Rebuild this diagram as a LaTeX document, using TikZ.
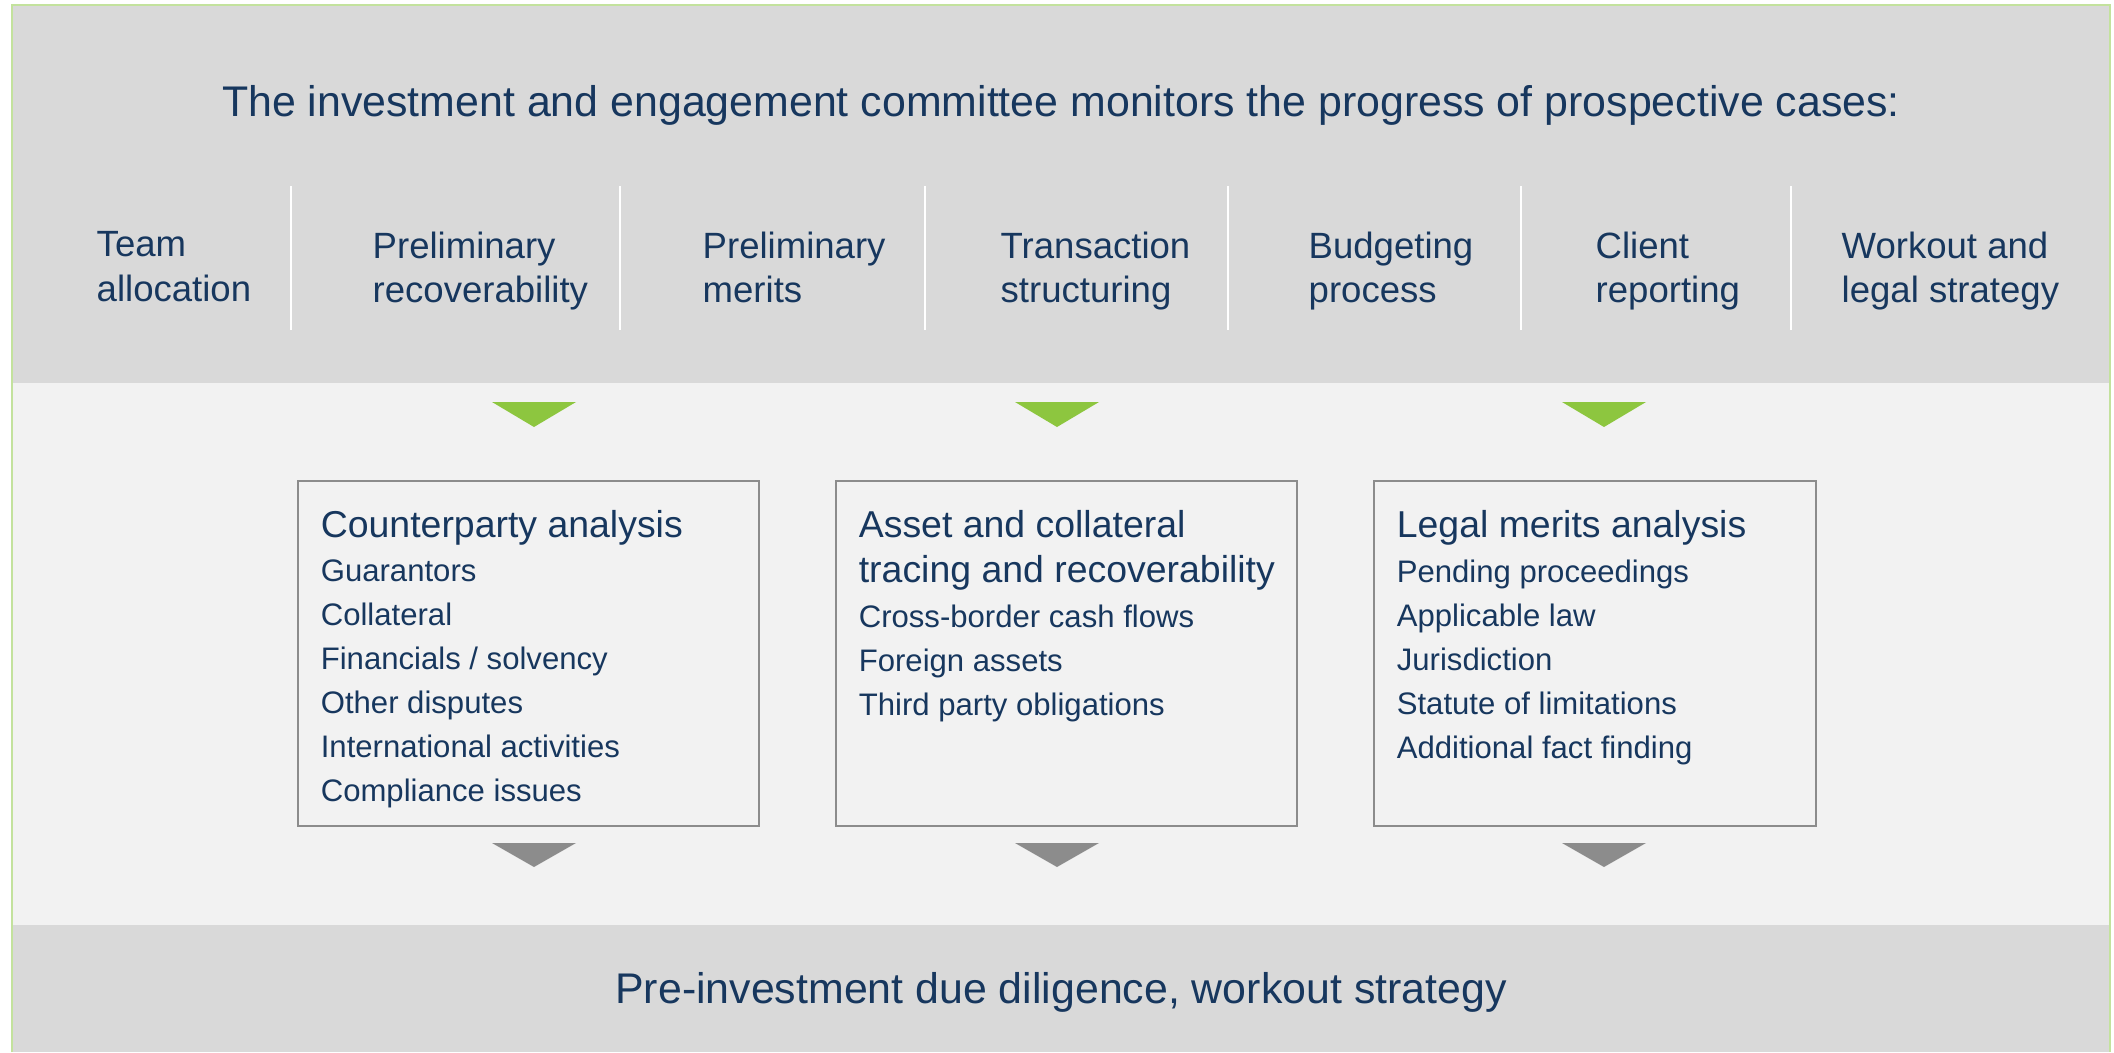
\documentclass[tikz,border=0pt]{standalone}
\usepackage{fontspec}
\setmainfont{Liberation Sans}
\usetikzlibrary{calc}
\definecolor{navy}{HTML}{17375E}
\definecolor{bandgray}{HTML}{D9D9D9}
\definecolor{paleband}{HTML}{F2F2F2}
\definecolor{leafgreen}{HTML}{8DC63F}
\definecolor{rimgreen}{HTML}{C3E29D}
\definecolor{boxgray}{HTML}{8C8C8C}

\begin{document}
\begin{tikzpicture}[x=0.1mm, y=-0.1mm,
  sep/.style={white, line width=0.6pt},
  col/.style={anchor=north west, inner sep=0, align=left, text=navy, font=\fontsize{10.4}{12.66}\selectfont},
  box/.style={draw=boxgray, line width=0.5pt, inner sep=0, fill=paleband},
  head/.style={anchor=north west, inner sep=0, align=left, text=navy, font=\fontsize{10.65}{12.8}\selectfont},
  item/.style={anchor=north west, inner sep=0, align=left, text=navy, font=\fontsize{8.85}{12.5}\selectfont},
  big/.style={anchor=base, inner sep=0, text=navy, font=\fontsize{12.2}{14}\selectfont}]
\useasboundingbox (0,0) rectangle (2114,1052);
% bands
\fill[bandgray] (12,5) rectangle (2110,383);
\fill[paleband] (12,383) rectangle (2110,925);
\fill[bandgray] (12,925) rectangle (2110,1052);
\draw[rimgreen, line width=0.4pt] (12,1052) -- (12,5) -- (2110,5) -- (2110,1052);

\node[big] (top) at (1061,116) {The investment and engagement committee monitors the progress of prospective cases:};

% stages
\foreach \x in {291,620,925,1228,1521,1791}
  \draw[sep] (\x,186) -- (\x,330);
\foreach \x/\t [count=\i] in {96/{Team\\allocation}, 372/{Preliminary\\recoverability}, 702/{Preliminary\\merits}, 1000/{Transaction\\structuring}, 1308/{Budgeting\\process}, 1595/{Client\\reporting}, 1841/{Workout and\\legal strategy}}
  \node[col] (c\i) at (\x,231) {\t};

% boxes
\node[box, minimum width=46.1mm, minimum height=34.5mm] (cp) at (528.5,653.5) {};
\node[box, minimum width=46.1mm, minimum height=34.5mm] (ac) at (1066.5,653.5) {};
\node[box, minimum width=44.2mm, minimum height=34.5mm] (lm) at (1595,653.5) {};

\foreach \x in {534,1057,1604} {
  \fill[leafgreen] (\x-42,402) -- (\x+42,402) -- (\x,427) -- cycle;
  \fill[boxgray] (\x-42,843) -- (\x+42,843) -- (\x,867) -- cycle;
}

\node[head] (cpT) at ($(cp.north west)+(23,30)$) {Counterparty analysis};
\node[item] (cpL) at ($(cp.north west)+(23,79)$) {Guarantors\\Collateral\\Financials / solvency\\Other disputes\\International activities\\Compliance issues};
\node[head] (acT) at ($(ac.north west)+(23,30)$) {Asset and collateral\\tracing and recoverability};
\node[item] (acL) at ($(ac.north west)+(23,124)$) {Cross-border cash flows\\Foreign assets\\Third party obligations};
\node[head] (lmT) at ($(lm.north west)+(23,30)$) {Legal merits analysis};
\node[item] (lmL) at ($(lm.north west)+(23,79)$) {Pending proceedings\\Applicable law\\Jurisdiction\\Statute of limitations\\Additional fact finding};

\node[big] (foot) at (1061,1003) {Pre-investment due diligence, workout strategy};
\end{tikzpicture}
\end{document}
